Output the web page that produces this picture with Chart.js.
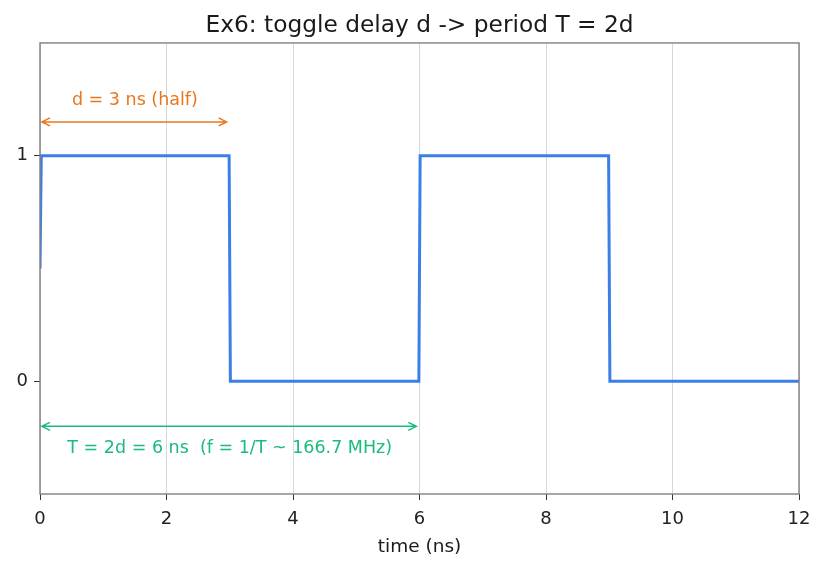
<!DOCTYPE html>
<html>
<head>
<meta charset="utf-8">
<script src="https://cdn.jsdelivr.net/npm/chart.js@4"></script>
<style>
  html, body { margin: 0; padding: 0; background: #fff; }
  #wrap { width: 825px; height: 569px; }
</style>
</head>
<body>
<div id="wrap"><canvas id="chart1" width="825" height="569"></canvas></div>
<script>
// sampled toggle waveform (time in ns, logic level)
const timeNs = [0, 0.02, 2.99, 3.01, 5.99, 6.01, 8.99, 9.01, 12];
const level  = [0.5, 1, 1, 0, 0, 1, 1, 0, 0];

const xTicks = [0, 2, 4, 6, 8, 10, 12];
const yTicks = [0, 1];

// annotations: [x1, x2, y] for arrows, [x, y] for labels
const halfArrow = [0.03, 2.95, 1.15];
const halfLabel = [1.5, 1.245];
const halfText = 'd = 3 ns (half)';
const periodArrow = [0.03, 5.95, -0.2];
const periodLabel = [3.0, -0.3];
const periodText = 'T = 2d = 6 ns  (f = 1/T ~ 166.7 MHz)';

const blue = '#3b7fe6';
const orange = '#e8771e';
const green = '#1abb7c';
const font = 'DejaVu Sans';

function drawArrow(ctx, x1, x2, y, color) {
    ctx.save();
    ctx.strokeStyle = color;
    ctx.lineWidth = 1.5;
    ctx.beginPath();
    ctx.moveTo(x1, y);
    ctx.lineTo(x2, y);
    // open heads on both ends
    ctx.moveTo(x1 + 8, y - 4);
    ctx.lineTo(x1, y);
    ctx.lineTo(x1 + 8, y + 4);
    ctx.moveTo(x2 - 8, y - 4);
    ctx.lineTo(x2, y);
    ctx.lineTo(x2 - 8, y + 4);
    ctx.stroke();
    ctx.restore();
}

const annotate = {
    id: 'annotate',
    afterLayout(chart) {
        // centre the title over the plot area, not the whole canvas
        const t = chart.titleBlock;
        if (t) {
            t.left = chart.chartArea.left;
            t.right = chart.chartArea.right;
        }
    },
    afterDatasetsDraw(chart) {
        const { ctx, scales: { x, y }, chartArea: a } = chart;
        drawArrow(ctx, x.getPixelForValue(halfArrow[0]), x.getPixelForValue(halfArrow[1]),
                  y.getPixelForValue(halfArrow[2]), orange);
        drawArrow(ctx, x.getPixelForValue(periodArrow[0]), x.getPixelForValue(periodArrow[1]),
                  y.getPixelForValue(periodArrow[2]), green);
        ctx.save();
        ctx.font = '17.5px "' + font + '"';
        ctx.textAlign = 'center';
        ctx.textBaseline = 'middle';
        ctx.fillStyle = orange;
        ctx.fillText(halfText, x.getPixelForValue(halfLabel[0]), y.getPixelForValue(halfLabel[1]));
        ctx.fillStyle = green;
        ctx.fillText(periodText, x.getPixelForValue(periodLabel[0]), y.getPixelForValue(periodLabel[1]));
        // frame round the plot
        ctx.strokeStyle = '#808080';
        ctx.lineWidth = 1.4;
        ctx.strokeRect(a.left, a.top, a.right - a.left, a.bottom - a.top);
        ctx.restore();
    }
};

new Chart(document.getElementById('chart1').getContext('2d'), {
    type: 'line',
    data: {
        datasets: [{
            data: timeNs.map((t, i) => ({ x: t, y: level[i] })),
            borderColor: blue,
            borderWidth: 3,
            pointRadius: 0,
            tension: 0,
            fill: false
        }]
    },
    options: {
        responsive: false,
        animation: false,
        layout: { padding: { left: 0, right: 26, top: 0, bottom: 0 } },
        plugins: {
            legend: { display: false },
            tooltip: { enabled: false },
            title: {
                display: true,
                text: 'Ex6: toggle delay d -> period T = 2d',
                color: '#1a1a1a',
                font: { family: font, size: 23.3, weight: 'normal' },
                padding: { top: 12, bottom: 3 }
            }
        },
        scales: {
            x: {
                type: 'linear',
                min: 0,
                max: 12,
                afterBuildTicks: s => { s.ticks = xTicks.map(v => ({ value: v })); },
                ticks: {
                    color: '#222',
                    font: { family: font, size: 18 },
                    padding: 9,
                    maxRotation: 0
                },
                grid: { color: '#d8d8d8', lineWidth: 1, tickColor: '#333', tickLength: 6 },
                border: { display: false },
                title: {
                    display: true,
                    text: 'time (ns)',
                    color: '#1a1a1a',
                    font: { family: font, size: 18.5 },
                    padding: { top: 4, bottom: 11 }
                },
                afterFit: s => { s.height = 75; }
            },
            y: {
                type: 'linear',
                min: -0.5,
                max: 1.5,
                afterBuildTicks: s => { s.ticks = yTicks.map(v => ({ value: v })); },
                ticks: {
                    color: '#222',
                    font: { family: font, size: 18 },
                    padding: 6
                },
                grid: { color: 'rgba(0,0,0,0)', tickColor: '#333', tickLength: 6 },
                border: { display: false },
                afterFit: s => { s.width = 40; }
            }
        }
    },
    plugins: [annotate]
});
</script>
</body>
</html>
